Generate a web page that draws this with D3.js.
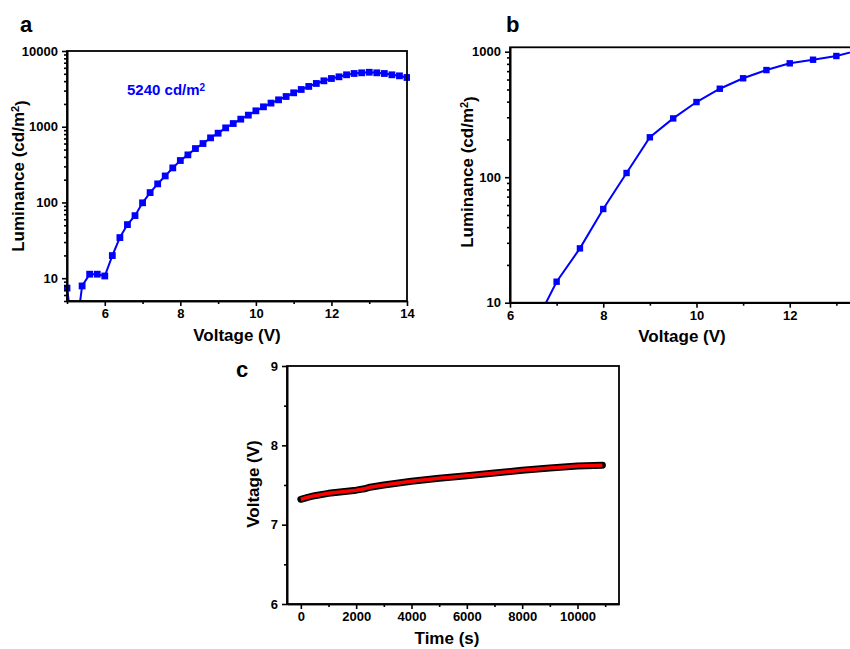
<!doctype html>
<html>
<head>
    <script src="https://d3js.org/d3.v7.min.js"></script>
</head>
<style>
    body { margin: 0; background: #fff; }
    svg text {
        font-family: "Liberation Sans", Arial, sans-serif;
        font-weight: bold;
        fill: #000;
    }
    .axis path, .axis line { stroke: #000; stroke-width: 1.6px; }
    .axis text { font-size: 13px; }
</style>
<body>
    <div id="chart"></div>
    <script>
        // panel a : luminance vs voltage, 0.2 V steps
        var aVoltage = [5.0, 5.2, 5.4, 5.6, 5.8, 6.0, 6.2, 6.4, 6.6, 6.8, 7.0, 7.2, 7.4, 7.6, 7.8,
                        8.0, 8.2, 8.4, 8.6, 8.8, 9.0, 9.2, 9.4, 9.6, 9.8, 10.0, 10.2, 10.4, 10.6, 10.8,
                        11.0, 11.2, 11.4, 11.6, 11.8, 12.0, 12.2, 12.4, 12.6, 12.8, 13.0, 13.2, 13.4, 13.6, 13.8, 14.0];
        var aLuminance = [7.4, 1.3, 7.9, 11.3, 11.3, 10.7, 19.9, 34.4, 51, 67, 99, 135, 176, 224, 286,
                          358, 425, 515, 600, 713, 822, 966, 1102, 1259, 1422, 1622, 1832, 2051, 2266, 2506,
                          2805, 3104, 3404, 3727, 4040, 4333, 4563, 4852, 5047, 5152, 5240, 5152, 5047, 4850, 4700, 4470];
        var aXTicks = [6, 8, 10, 12, 14];
        var aXMinor = [5, 7, 9, 11, 13];
        var aYTicks = [10, 100, 1000, 10000];

        // panel b : luminance vs voltage, 0.5 V steps
        var bVoltage = [6.5, 7.0, 7.5, 8.0, 8.5, 9.0, 9.5, 10.0, 10.5, 11.0, 11.5, 12.0, 12.5, 13.0, 13.5];
        var bLuminance = [6.3, 14.7, 27.1, 55.8, 108, 208, 294, 397, 507, 614, 714, 808, 863, 924, 1030];
        var bXTicks = [6, 8, 10, 12];
        var bXMinor = [7, 9, 11, 13];
        var bYTicks = [10, 100, 1000];

        // panel c : voltage vs time
        var cTime = [0, 250, 500, 1000, 1500, 2000, 2300, 2500, 3000, 4000, 5000, 6000, 7000, 8000, 9000, 10000, 10900];
        var cVoltage = [7.32, 7.345, 7.365, 7.395, 7.415, 7.435, 7.452, 7.472, 7.50, 7.547, 7.584, 7.617, 7.65, 7.685, 7.714, 7.74, 7.75];
        var cXTicks = [0, 2000, 4000, 6000, 8000, 10000];
        var cXMinor = [1000, 3000, 5000, 7000, 9000, 11000];
        var cYTicks = [6, 7, 8, 9];
        var cYMinor = [6.5, 7.5, 8.5];

        var svg = d3.select("#chart")
                    .append("svg")
                    .attr("width", 850)
                    .attr("height", 649);

        // minor ticks of a log axis between the domain ends
        function logMinor(domain) {
            var out = [];
            for (var e = -1; e < 6; e++) {
                for (var m = 2; m < 10; m++) {
                    var v = m * Math.pow(10, e);
                    if (v >= domain[0] && v <= domain[1]) out.push(v);
                }
            }
            return out;
        }

        function drawAxes(g, x, y, o) {
            var left = x.range()[0], bottom = y.range()[0];
            g.append("g").attr("class", "axis")
             .attr("transform", "translate(0," + bottom + ")")
             .call(d3.axisBottom(x).tickValues(o.xMinor).tickSize(3).tickFormat("").tickSizeOuter(0));
            g.append("g").attr("class", "axis")
             .attr("transform", "translate(" + left + ",0)")
             .call(d3.axisLeft(y).tickValues(o.yMinor).tickSize(3).tickFormat("").tickSizeOuter(0));
            g.append("g").attr("class", "axis")
             .attr("transform", "translate(0," + bottom + ")")
             .call(d3.axisBottom(x).tickValues(o.xTicks).tickSize(5).tickPadding(3).tickSizeOuter(0)
                   .tickFormat(d3.format("d")));
            g.append("g").attr("class", "axis")
             .attr("transform", "translate(" + left + ",0)")
             .call(d3.axisLeft(y).tickValues(o.yTicks).tickSize(5).tickPadding(4).tickSizeOuter(0)
                   .tickFormat(d3.format("d")));
            g.append("rect")
             .attr("x", left).attr("y", y.range()[1])
             .attr("width", x.range()[1] - left)
             .attr("height", bottom - y.range()[1])
             .attr("fill", "none").attr("stroke", "#000").attr("stroke-width", 1.8);
        }

        function lumLabel(g, cx, cy) {
            var t = g.append("text")
                     .attr("transform", "translate(" + cx + "," + cy + ") rotate(-90)")
                     .attr("text-anchor", "middle")
                     .attr("font-size", "17px");
            t.append("tspan").text("Luminance (cd/m");
            t.append("tspan").attr("dy", "-0.45em").attr("font-size", "11px").text("2");
            t.append("tspan").attr("dy", "0.45em").text(")");
        }

        /* ---------- panel a ---------- */
        var ga = svg.append("g");
        var xa = d3.scaleLinear().domain([5, 14]).range([67, 407]);
        var ya = d3.scaleLog().domain([5, 10000]).range([301, 51]);

        ga.append("clipPath").attr("id", "clipA")
          .append("rect").attr("x", 64).attr("y", 48).attr("width", 346).attr("height", 253);

        var aData = aVoltage.map(function(d, i) { return [d, aLuminance[i]]; });
        var pa = ga.append("g").attr("clip-path", "url(#clipA)");
        pa.append("path")
          .datum(aData)
          .attr("fill", "none").attr("stroke", "#0000ff").attr("stroke-width", 2)
          .attr("d", d3.line().x(function(d) { return xa(d[0]); }).y(function(d) { return ya(d[1]); }));
        pa.selectAll("rect")
          .data(aData)
          .enter()
          .append("rect")
          .attr("x", function(d) { return xa(d[0]) - 3.4; })
          .attr("y", function(d) { return ya(d[1]) - 3.4; })
          .attr("width", 6.8).attr("height", 6.8)
          .attr("fill", "#0000ff");

        drawAxes(ga, xa, ya, {xTicks: aXTicks, xMinor: aXMinor, yTicks: aYTicks, yMinor: logMinor([5, 10000])});

        var ann = ga.append("text").attr("x", 127).attr("y", 95)
                    .attr("font-size", "15px").style("fill", "#0000ff");
        ann.append("tspan").text("5240 cd/m");
        ann.append("tspan").attr("dy", "-0.45em").attr("font-size", "10px").text("2");

        ga.append("text").attr("x", 20).attr("y", 32).attr("font-size", "22px").text("a");
        ga.append("text").attr("x", 237).attr("y", 341).attr("text-anchor", "middle")
          .attr("font-size", "17px").text("Voltage (V)");
        lumLabel(ga, 24, 176);

        /* ---------- panel b ---------- */
        var gb = svg.append("g");
        var xb = d3.scaleLinear().domain([6, 14]).range([510, 883]);
        var yb = d3.scaleLog().domain([10, 1084]).range([302.7, 47.3]);

        gb.append("clipPath").attr("id", "clipB")
          .append("rect").attr("x", 510).attr("y", 47).attr("width", 373).attr("height", 256);

        var bData = bVoltage.map(function(d, i) { return [d, bLuminance[i]]; });
        var pb = gb.append("g").attr("clip-path", "url(#clipB)");
        pb.append("path")
          .datum(bData)
          .attr("fill", "none").attr("stroke", "#0000ff").attr("stroke-width", 2)
          .attr("d", d3.line().x(function(d) { return xb(d[0]); }).y(function(d) { return yb(d[1]); }));
        pb.selectAll("rect")
          .data(bData)
          .enter()
          .append("rect")
          .attr("x", function(d) { return xb(d[0]) - 3.2; })
          .attr("y", function(d) { return yb(d[1]) - 3.2; })
          .attr("width", 6.4).attr("height", 6.4)
          .attr("fill", "#0000ff");

        drawAxes(gb, xb, yb, {xTicks: bXTicks, xMinor: bXMinor, yTicks: bYTicks, yMinor: logMinor([10, 1084])});

        gb.append("text").attr("x", 506).attr("y", 32).attr("font-size", "22px").text("b");
        gb.append("text").attr("x", 682).attr("y", 342).attr("text-anchor", "middle")
          .attr("font-size", "17px").text("Voltage (V)");
        lumLabel(gb, 473, 172);

        /* ---------- panel c ---------- */
        var gc = svg.append("g");
        var xc = d3.scaleLinear().domain([-500, 11500]).range([287, 619]);
        var yc = d3.scaleLinear().domain([6, 9]).range([604, 366]);

        var cData = cTime.map(function(d, i) { return [d, cVoltage[i]]; });
        var lineC = d3.line()
                      .x(function(d) { return xc(d[0]); }).y(function(d) { return yc(d[1]); });
        gc.append("path").datum(cData)
          .attr("fill", "none").attr("stroke", "#000").attr("stroke-width", 7).attr("stroke-linecap", "round")
          .attr("stroke-linejoin", "round")
          .attr("d", lineC);
        gc.append("path").datum(cData)
          .attr("fill", "none").attr("stroke", "#ff0000").attr("stroke-width", 3.5)
          .attr("stroke-linejoin", "round")
          .attr("d", lineC);

        drawAxes(gc, xc, yc, {xTicks: cXTicks, xMinor: cXMinor, yTicks: cYTicks, yMinor: cYMinor});
        gc.selectAll(".axis text").attr("font-size", "12px");

        gc.append("text").attr("x", 236).attr("y", 377).attr("font-size", "22px").text("c");
        gc.append("text").attr("x", 447).attr("y", 644).attr("text-anchor", "middle")
          .attr("font-size", "17px").text("Time (s)");
        gc.append("text")
          .attr("transform", "translate(259,484) rotate(-90)")
          .attr("text-anchor", "middle")
          .attr("font-size", "17px").text("Voltage (V)");
    </script>
</body>
</html>
